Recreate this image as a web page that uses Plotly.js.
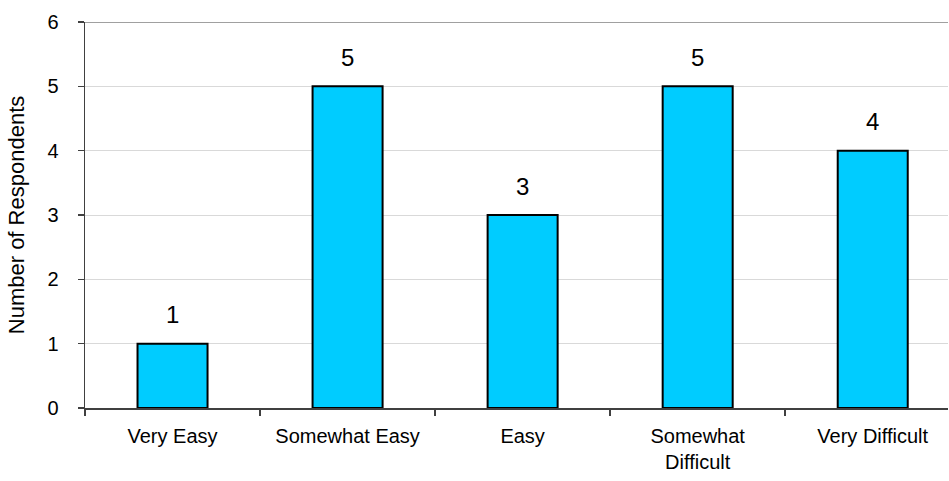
<!DOCTYPE html>
<html>
<head>
<meta charset="utf-8">
<script src="https://cdn.plot.ly/plotly-3.0.1.min.js"></script>
<style>html,body{margin:0;padding:0;background:#fff;}#chart{width:949px;height:481px;}</style>
</head>
<body>
<div id="chart"></div>
<script>
const categories = ["Very Easy", "Somewhat Easy", "Easy", "Somewhat<br>Difficult", "Very Difficult"];
const respondents = [1, 5, 3, 5, 4];
const yTicks = [0, 1, 2, 3, 4, 5, 6];

const trace = {
  type: "bar",
  x: categories,
  y: respondents,
  width: 0.4,
  marker: {color: "#00CCFF", line: {color: "#000000", width: 2}},
  hoverinfo: "none"
};

const annotations = categories.map((c, i) => ({
  x: c, y: respondents[i], xref: "x", yref: "y",
  text: String(respondents[i]), showarrow: false,
  yanchor: "middle", yshift: 29,
  font: {family: "Liberation Sans, Arial, sans-serif", size: 24, color: "#000"}
}));

const layout = {
  width: 949, height: 481,
  margin: {l: 85, r: 1, t: 22, b: 73},
  paper_bgcolor: "#fff", plot_bgcolor: "#fff",
  showlegend: false,
  font: {family: "Liberation Sans, Arial, sans-serif", size: 20, color: "#000"},
  xaxis: {
    type: "category",
    range: [-0.5, 4.43],
    showline: true, linecolor: "#404040", linewidth: 1.5,
    ticks: "outside", tickson: "boundaries", ticklen: 6, tickcolor: "#404040", tickwidth: 1.5,
    showgrid: false, zeroline: false,
    ticklabelstandoff: 9,
    tickfont: {size: 20}, fixedrange: true
  },
  yaxis: {
    range: [0, 6], tickvals: yTicks, ticktext: yTicks.map(String),
    showline: true, linecolor: "#404040", linewidth: 1.5,
    ticks: "outside", ticklen: 6, tickcolor: "#404040", tickwidth: 1.5,
    showgrid: true, gridcolor: "#d9d9d9", gridwidth: 1,
    zeroline: false,
    ticklabelstandoff: 15,
    tickfont: {size: 20},
    title: {text: "Number of Respondents", font: {size: 22}, standoff: 16}
  },
  shapes: [{type: "line", xref: "paper", yref: "y", x0: 0, x1: 1, y0: 6, y1: 6,
            line: {color: "#808080", width: 1.5}}],
  annotations: annotations,
  bargap: 0.6
};

Plotly.newPlot("chart", [trace], layout, {displayModeBar: false, staticPlot: true});
</script>
</body>
</html>
